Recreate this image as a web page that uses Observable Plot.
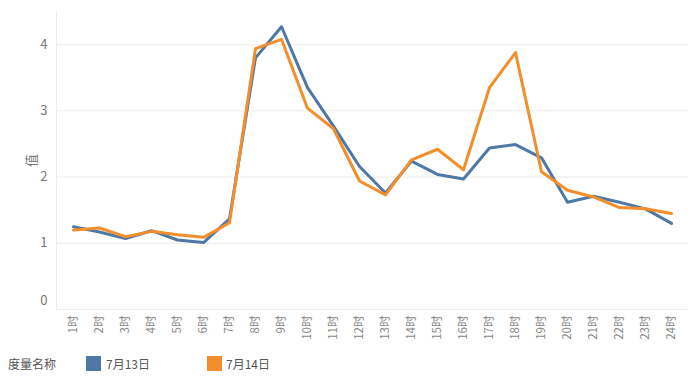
<!DOCTYPE html>
<html><head><meta charset="utf-8">
<script src="https://cdn.jsdelivr.net/npm/d3@7"></script>
<script src="https://cdn.jsdelivr.net/npm/@observablehq/plot@0.6"></script>
<style>
body{margin:0;background:#fff;font-family:"Noto Sans CJK SC","Noto Sans",sans-serif;}
#legend{position:relative;height:28px;font-size:12px;color:#555;}
#legend span{position:absolute;top:5px;}
#legend i{position:absolute;top:6px;width:15px;height:15px;}
</style></head><body>
<div id="chart"></div>
<div id="legend"></div>
<script>
const hours = ["1时","2时","3时","4时","5时","6时","7时","8时","9时","10时","11时","12时","13时","14时","15时","16时","17时","18时","19时","20时","21时","22时","23时","24时"];
const seriesNames = ["7月13日","7月14日"];
const jul13 = [1.25,1.17,1.07,1.19,1.05,1.01,1.37,3.8,4.27,3.35,2.77,2.16,1.76,2.24,2.04,1.97,2.44,2.49,2.29,1.62,1.71,1.62,1.52,1.3];
const jul14 = [1.2,1.23,1.1,1.18,1.13,1.09,1.31,3.94,4.08,3.04,2.73,1.94,1.73,2.26,2.42,2.11,3.35,3.88,2.08,1.8,1.7,1.54,1.52,1.45];
const colors = ["#4e79a7","#f28e2b"];
const yTicks = [0,1,2,3,4];

const data = [];
hours.forEach((h,i)=>{
  data.push({hour:h, series:seriesNames[0], value:jul13[i]});
  data.push({hour:h, series:seriesNames[1], value:jul14[i]});
});

const chart = Plot.plot({
  width: 694,
  height: 350,
  marginLeft: 56,
  marginRight: 6,
  marginTop: 11,
  marginBottom: 41,
  style: {fontFamily:'"Noto Sans CJK SC","Noto Sans",sans-serif', fontSize:"12px", color:"#666", background:"#fff"},
  x: {type:"point", domain: hours, padding: 0.5},
  y: {domain:[0,4.5]},
  color: {domain: seriesNames, range: colors},
  marks: [
    Plot.gridY(yTicks, {stroke:"#ececec", strokeOpacity:1}),
    Plot.frame({anchor:"left", stroke:"#ececec"}),
    Plot.axisY(yTicks.slice(1), {tickSize:0, tickPadding:9, fontSize:13, fill:"#777", tickFormat:d=>String(d), label:"值", labelAnchor:"center", labelArrow:"none", labelOffset:30}),
    Plot.text(yTicks.slice(0,1), {y:d=>d, text:d=>String(d), frameAnchor:"left", dx:-9, dy:-9, textAnchor:"end", fontSize:13, fill:"#777"}),
    Plot.axisX({tickSize:0, tickRotate:-90, tickPadding:6, fontSize:11.5, fill:"#888", label:null}),
    Plot.line(data, {x:"hour", y:"value", stroke:"series", z:"series", strokeWidth:3, strokeLinejoin:"round", curve:"linear"})
  ]
});
document.getElementById("chart").appendChild(chart);

const lg = document.getElementById("legend");
lg.innerHTML = `<span style="left:8px">度量名称</span>` +
  `<i style="left:86px;background:${colors[0]}"></i><span style="left:106px">${seriesNames[0]}</span>` +
  `<i style="left:207px;background:${colors[1]}"></i><span style="left:226px">${seriesNames[1]}</span>`;
</script>
</body></html>
